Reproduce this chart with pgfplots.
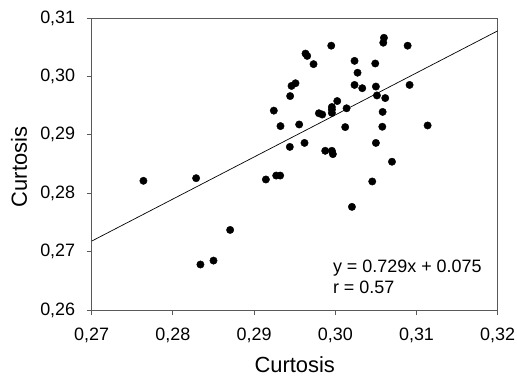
\documentclass[border=0pt]{standalone}
\usepackage{pgfplots}
\pgfplotsset{compat=1.18}
\usepackage{fontspec}
\setmainfont{Liberation Sans}
\begin{document}
\begin{tikzpicture}
\begin{axis}[
  at={(0,0)}, anchor=south west,
  scale only axis,
  width=406bp, height=292bp,
  xmin=0.27, xmax=0.32, ymin=0.26, ymax=0.31,
  xtick={0.27,0.28,0.29,0.30,0.31,0.32},
  ytick={0.26,0.27,0.28,0.29,0.30,0.31},
  scaled ticks=false,
  /pgf/number format/assume math mode=true,
  /pgf/number format/.cd, fixed, fixed zerofill, precision=2, use comma, /pgfplots/.cd,
  tick align=outside,
  xtick pos=bottom, ytick pos=left,
  major tick length=5bp,
  axis line style={black!65, line width=0.9bp},
  every tick/.style={black!65, line width=0.9bp},
  ticklabel style={font=\fontsize{18}{21}\selectfont},
  yticklabel style={xshift=-8bp},
  xticklabel style={yshift=-9bp},
  xlabel={Curtosis}, ylabel={Curtosis},
  label style={font=\fontsize{22}{26}\selectfont},
  xlabel style={at={(axis description cs:0.5,-0.187)}, anchor=center},
  ylabel style={at={(axis description cs:-0.179,0.49)}, anchor=center},
  clip=false,
]
\addplot[only marks, mark=*, mark size=3.7bp, mark options={fill=black, draw=black}] coordinates {
(0.27637,0.28212) (0.28286,0.28257) (0.28705,0.27371) (0.28339,0.26779) (0.28500,0.26846)
(0.29145,0.28235) (0.29272,0.28302) (0.29321,0.28302) (0.29243,0.29414) (0.29325,0.29149)
(0.29444,0.29663) (0.29461,0.29837) (0.29510,0.29883) (0.29440,0.28793) (0.29555,0.29177)
(0.29621,0.28861) (0.29633,0.30391) (0.29654,0.30351) (0.29732,0.30210) (0.29950,0.30526)
(0.29798,0.29369) (0.29839,0.29347) (0.29876,0.28726) (0.29958,0.28726) (0.29970,0.28669)
(0.29958,0.29476) (0.29958,0.29431) (0.29958,0.29375) (0.30024,0.29578) (0.30139,0.29454)
(0.30122,0.29132) (0.30237,0.30266) (0.30274,0.30063) (0.30237,0.29854) (0.30332,0.29798)
(0.30205,0.27766) (0.30492,0.30221) (0.30500,0.29826) (0.30513,0.29674) (0.30615,0.29629)
(0.30583,0.29392) (0.30579,0.29138) (0.30500,0.28861) (0.30455,0.28201) (0.30698,0.28539)
(0.30591,0.30577) (0.30599,0.30661) (0.30891,0.30526) (0.30915,0.29854) (0.31137,0.29160)
};
\addplot[black, line width=0.7bp] coordinates {(0.27,0.2718) (0.32,0.3078)};
\node[anchor=base west, inner sep=0pt, font=\fontsize{18}{21}\selectfont] at (rel axis cs:0.594,0.127) {y = 0.729x + 0.075};
\node[anchor=base west, inner sep=0pt, font=\fontsize{18}{21}\selectfont] at (rel axis cs:0.594,0.058) {r = 0.57};
\end{axis}
\pgfresetboundingbox
\path[use as bounding box] (-91.7bp,-68bp) rectangle (425.3bp,310bp);
\end{tikzpicture}
\end{document}
